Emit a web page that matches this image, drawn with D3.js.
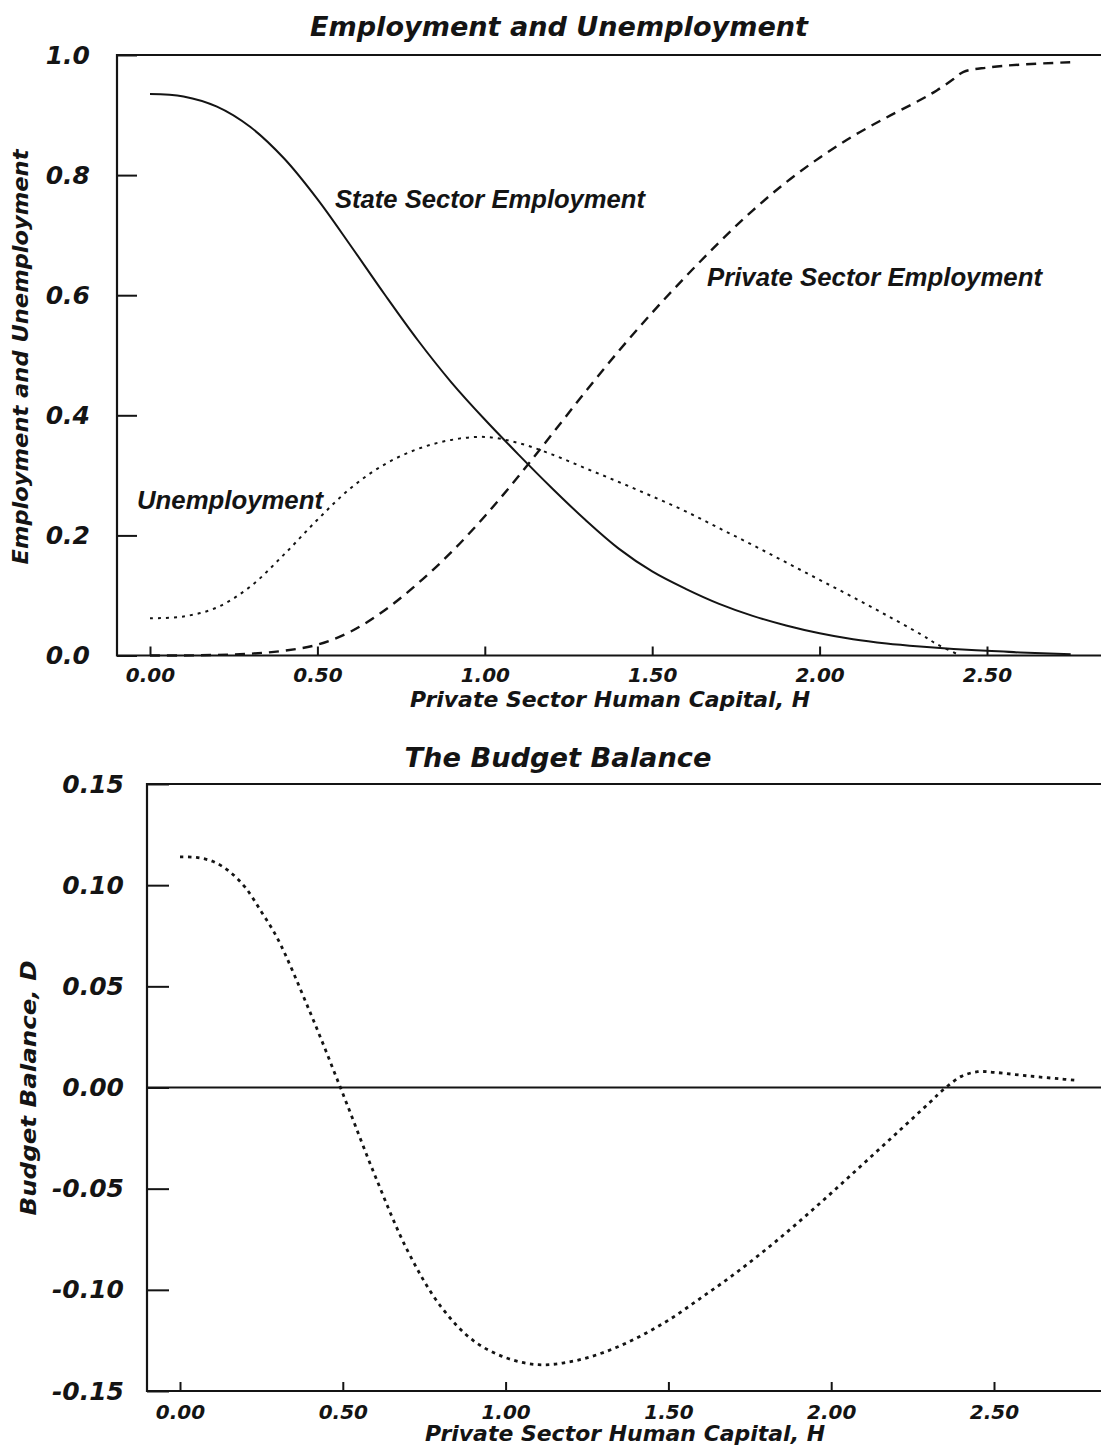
<!DOCTYPE html>
<html><head><meta charset="utf-8">
<script src="https://cdn.jsdelivr.net/npm/d3@7"></script>
<style>body{margin:0;background:#fff}svg{display:block}</style>
</head><body>
<svg id="c" width="1101" height="1450"></svg>
<script>
// ---- Top panel: Employment and Unemployment ----
const hState = [0,0.1,0.2,0.3,0.4,0.5,0.6,0.7,0.8,0.9,1.0,1.1,1.2,1.3,1.4,1.5,1.6,1.7,1.8,1.9,2.0,2.1,2.2,2.3,2.4,2.5,2.6,2.75];
const stateEmp = [0.935,0.931,0.914,0.88,0.828,0.76,0.682,0.602,0.525,0.455,0.393,0.335,0.279,0.226,0.178,0.14,0.111,0.086,0.066,0.05,0.037,0.027,0.02,0.015,0.011,0.008,0.005,0.002];
const hPrivate = [0,0.1,0.2,0.3,0.4,0.5,0.6,0.7,0.8,0.9,1.0,1.1,1.2,1.3,1.4,1.5,1.6,1.7,1.8,1.9,2.0,2.1,2.2,2.3,2.35,2.4,2.43,2.5,2.6,2.75];
const privateEmp = [0,0,0.001,0.003,0.008,0.018,0.04,0.075,0.12,0.172,0.232,0.298,0.368,0.439,0.507,0.571,0.631,0.688,0.741,0.788,0.829,0.865,0.896,0.925,0.941,0.96,0.972,0.979,0.984,0.988];
const hUnemp = [0,0.1,0.2,0.3,0.4,0.5,0.6,0.7,0.8,0.9,1.0,1.1,1.2,1.3,1.4,1.5,1.6,1.7,1.8,1.9,2.0,2.1,2.2,2.3,2.35,2.42];
const unemp = [0.062,0.065,0.08,0.115,0.168,0.226,0.279,0.318,0.344,0.359,0.364,0.354,0.335,0.312,0.289,0.265,0.24,0.212,0.184,0.155,0.126,0.097,0.067,0.036,0.019,0];
const topYTicks = [0,0.2,0.4,0.6,0.8,1.0];
const topYLabels = ["0.0","0.2","0.4","0.6","0.8","1.0"];
const xTicks = [0,0.5,1.0,1.5,2.0,2.5];
const xLabels = ["0.00","0.50","1.00","1.50","2.00","2.50"];

// ---- Bottom panel: Budget Balance ----
const hBudget = [0,0.05,0.1,0.15,0.2,0.25,0.3,0.4,0.5,0.6,0.7,0.8,0.9,1.0,1.1,1.2,1.3,1.4,1.5,1.6,1.7,1.8,1.9,2.0,2.1,2.2,2.3,2.35,2.4,2.45,2.5,2.6,2.7,2.75];
const budget = [0.114,0.1137,0.1118,0.107,0.099,0.0868,0.0735,0.037,-0.003,-0.044,-0.081,-0.108,-0.125,-0.1335,-0.137,-0.1355,-0.131,-0.124,-0.115,-0.104,-0.0925,-0.080,-0.0665,-0.0522,-0.0375,-0.0227,-0.0078,-0.0003,0.0055,0.0078,0.0075,0.0058,0.0043,0.0036];
const botYTicks = [-0.15,-0.10,-0.05,0,0.05,0.10,0.15];
const botYLabels = ["-0.15","-0.10","-0.05","0.00","0.05","0.10","0.15"];

const NUM_FONT = "'DejaVu Sans', sans-serif";
const LAB_FONT = "'Liberation Sans', Arial, sans-serif";
const INK = "#141414";

const svg = d3.select("#c");
svg.append("rect").attr("width",1101).attr("height",1450).attr("fill","#fff");

function styleAxis(g, size){
  g.select(".domain").remove();
  g.selectAll(".tick line").attr("stroke",INK).attr("stroke-width",2);
  g.selectAll(".tick text").attr("fill",INK).attr("font-family",NUM_FONT)
   .attr("font-weight","bold").attr("font-style","italic").attr("font-size",size);
}
function label(txt, x, y, size, len, font, rot){
  const t = svg.append("text").text(txt).attr("fill",INK).attr("font-family",font)
    .attr("font-weight","bold").attr("font-style","italic").attr("font-size",size)
    .attr("textLength",len).attr("lengthAdjust","spacingAndGlyphs");
  if(rot){ t.attr("transform",`translate(${x},${y}) rotate(-90)`).attr("text-anchor","middle"); }
  else { t.attr("x",x).attr("y",y); }
  return t;
}

// ===== Top chart =====
const xT = d3.scaleLinear().domain([0,2.5]).range([150,987]);
const yT = d3.scaleLinear().domain([0,1]).range([655.5,55]);

svg.append("path").attr("d",`M1115,${yT(1)}H117V${yT(0)}H1115`).attr("fill","none")
  .attr("stroke",INK).attr("stroke-width",2.2);

const gyT = svg.append("g").attr("transform","translate(117,0)")
  .call(d3.axisLeft(yT).tickValues(topYTicks).tickFormat((d,i)=>topYLabels[i])
    .tickSizeInner(-20).tickSizeOuter(0).tickPadding(27));
styleAxis(gyT,25);
const gxT = svg.append("g").attr("transform",`translate(0,${yT(0)})`)
  .call(d3.axisBottom(xT).tickValues(xTicks).tickFormat((d,i)=>xLabels[i])
    .tickSizeInner(-9).tickSizeOuter(0).tickPadding(12));
styleAxis(gxT,20);

const lineT = d3.line().x(d=>xT(d[0])).y(d=>yT(d[1])).curve(d3.curveCatmullRom.alpha(0.5));
svg.append("path").attr("d",lineT(d3.zip(hState,stateEmp))).attr("fill","none")
  .attr("stroke",INK).attr("stroke-width",2);
svg.append("path").attr("d",lineT(d3.zip(hPrivate,privateEmp))).attr("fill","none")
  .attr("stroke",INK).attr("stroke-width",2.4).attr("stroke-dasharray","10,7");
svg.append("path").attr("d",lineT(d3.zip(hUnemp,unemp))).attr("fill","none")
  .attr("stroke",INK).attr("stroke-width",2).attr("stroke-dasharray","3,5");

label("Employment and Unemployment",559,36,27,498,NUM_FONT).attr("text-anchor","middle");
label("Private Sector Human Capital, H",610,707,21,400,NUM_FONT).attr("text-anchor","middle");
label("Employment and Unemployment",28,357,21,415,NUM_FONT,true);
label("State Sector Employment",335,208,26,310,LAB_FONT);
label("Private Sector Employment",707,286,26,335,LAB_FONT);
label("Unemployment",137,509,26,186,LAB_FONT);

// ===== Bottom chart =====
const xB = d3.scaleLinear().domain([0,2.5]).range([180,994]);
const yB = d3.scaleLinear().domain([-0.15,0.15]).range([1391,784]);

svg.append("path").attr("d",`M1115,${yB(0.15)}H147V${yB(-0.15)}H1115`).attr("fill","none")
  .attr("stroke",INK).attr("stroke-width",2.2);
svg.append("line").attr("x1",147).attr("x2",1115).attr("y1",yB(0)).attr("y2",yB(0))
  .attr("stroke",INK).attr("stroke-width",2);

const gyB = svg.append("g").attr("transform","translate(147,0)")
  .call(d3.axisLeft(yB).tickValues(botYTicks).tickFormat((d,i)=>botYLabels[i])
    .tickSizeInner(-22).tickSizeOuter(0).tickPadding(23));
styleAxis(gyB,25);
const gxB = svg.append("g").attr("transform",`translate(0,${yB(-0.15)})`)
  .call(d3.axisBottom(xB).tickValues(xTicks).tickFormat((d,i)=>xLabels[i])
    .tickSizeInner(-9).tickSizeOuter(0).tickPadding(14));
styleAxis(gxB,20);

const lineB = d3.line().x(d=>xB(d[0])).y(d=>yB(d[1])).curve(d3.curveCatmullRom.alpha(0.5));
svg.append("path").attr("d",lineB(d3.zip(hBudget,budget))).attr("fill","none")
  .attr("stroke",INK).attr("stroke-width",2.8).attr("stroke-dasharray","3.5,4.5");

label("The Budget Balance",558,767,27,307,NUM_FONT).attr("text-anchor","middle");
label("Private Sector Human Capital, H",625,1441,21,400,NUM_FONT).attr("text-anchor","middle");
label("Budget Balance, D",36,1088,21,255,NUM_FONT,true);
</script>
</body></html>
